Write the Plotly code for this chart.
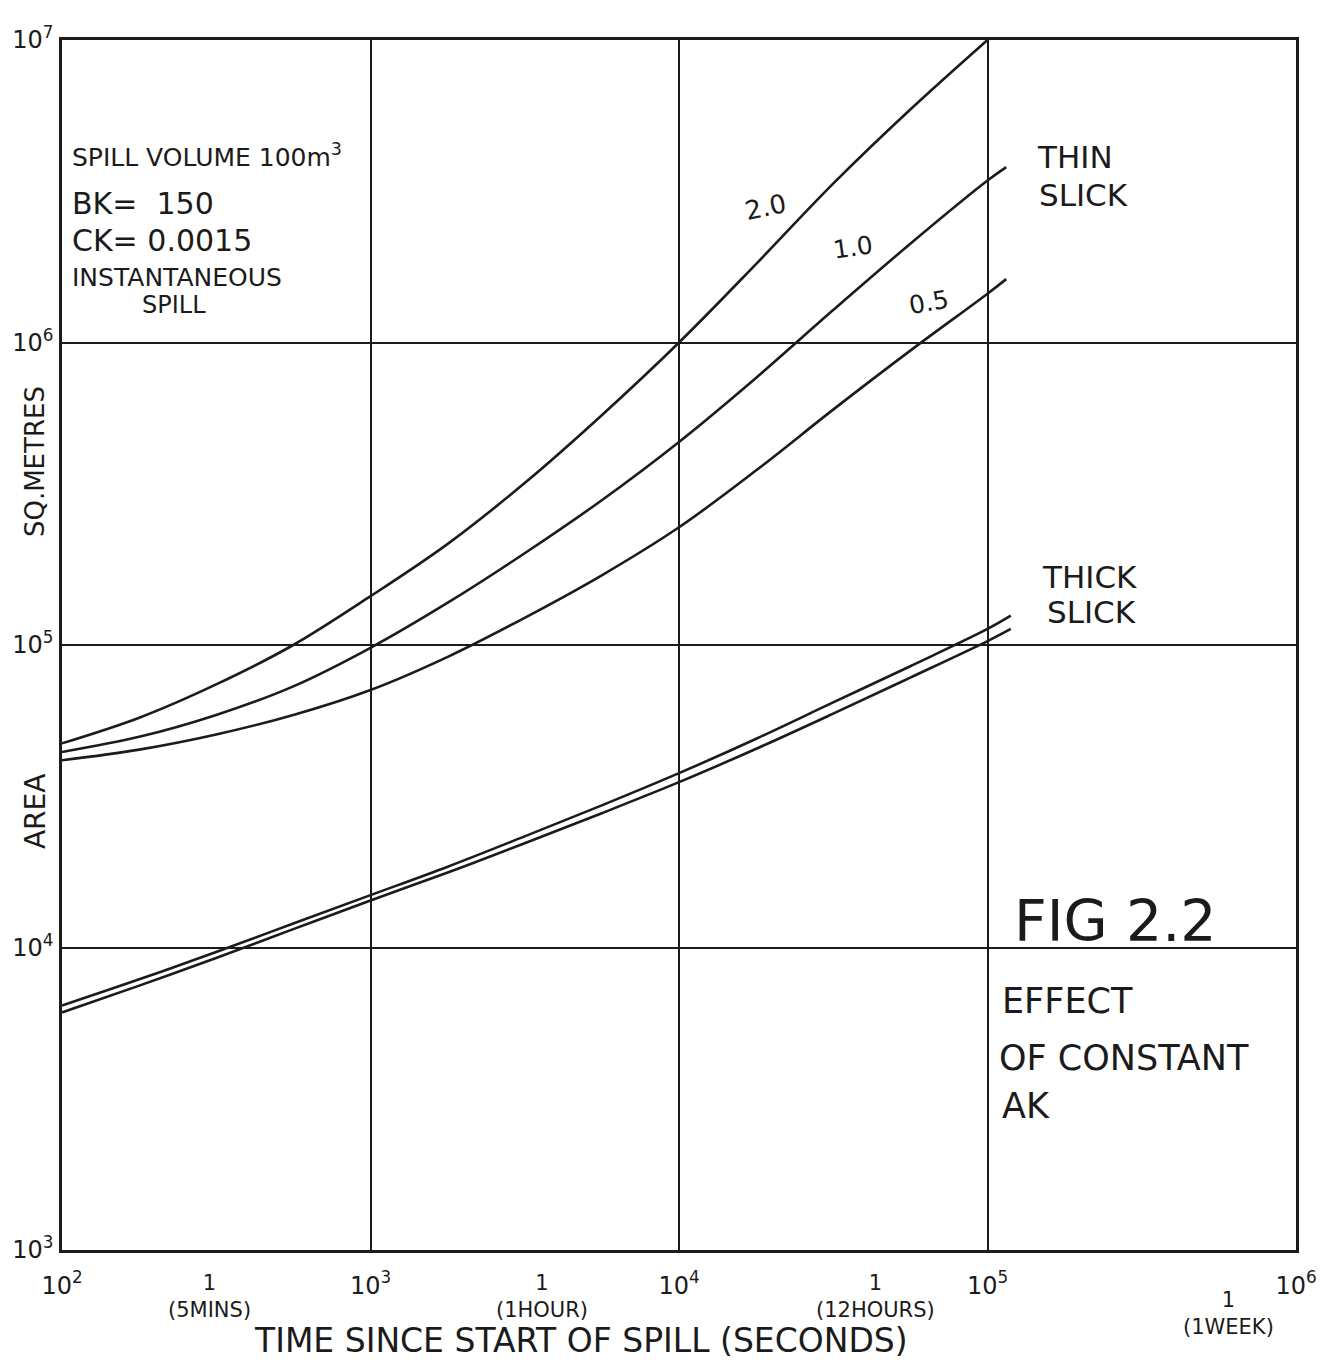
import math
import plotly.graph_objects as go

# Spreading of an instantaneous 100 m3 spill: slick area against time
time_s = [100, 178, 316, 562, 1000, 1780, 3160, 5620, 10000, 17800, 31600, 56200, 100000]
thin_end_s = 115000
thick_end_s = 119000

area_ak_2_0 = [47300, 57500, 74100, 100000, 145000, 216000, 343000, 575000,
               1000000, 1820000, 3350000, 5890000, 10000000]
area_ak_1_0 = [44300, 49700, 58700, 73000, 97900, 138000, 201000, 301000,
               469000, 765000, 1280000, 2120000, 3430000, 3800000]
area_ak_0_5 = [41600, 45100, 50600, 58700, 71000, 91400, 123000, 170000,
               245000, 378000, 600000, 940000, 1450000, 1620000]
area_thick_a = [6430, 7850, 9660, 12000, 14900, 18500, 23300, 29500,
                37700, 49000, 64600, 85100, 113000, 125000]
area_thick_b = [6100, 7480, 9230, 11500, 14300, 17700, 22100, 27800,
                35200, 45400, 59300, 78000, 103000, 113000]

decade_ticks = [1e2, 1e3, 1e4, 1e5, 1e6]
decade_text = ["10<sup>2</sup>", "10<sup>3</sup>", "10<sup>4</sup>", "10<sup>5</sup>", "10<sup>6</sup>"]
time_marks = [300, 3600, 43200, 604800]
time_text = ["1<br>(5MINS)", "1<br>(1HOUR)", "1<br>(12HOURS)", "1<br>(1WEEK)"]
area_ticks = [1e3, 1e4, 1e5, 1e6, 1e7]
area_text = ["10<sup>3</sup>", "10<sup>4</sup>", "10<sup>5</sup>", "10<sup>6</sup>", "10<sup>7</sup>"]

INK = "#1b1b1b"
FONT = "DejaVu Sans"
W, H = 1338, 1367
ML, MR, MT, MB = 60, 42, 40, 117

fig = go.Figure()

curves = [
    ("AK 2.0", time_s, area_ak_2_0),
    ("AK 1.0", time_s + [thin_end_s], area_ak_1_0),
    ("AK 0.5", time_s + [thin_end_s], area_ak_0_5),
    ("thick slick", time_s + [thick_end_s], area_thick_a),
    ("thick slick ", time_s + [thick_end_s], area_thick_b),
]
for name, t, a in curves:
    fig.add_trace(go.Scatter(
        x=t, y=a, name=name, mode="lines",
        line=dict(color=INK, width=2.6, shape="spline", smoothing=1.0),
        showlegend=False, hoverinfo="x+y",
    ))

axis_common = dict(
    type="log", showline=True, linecolor=INK, linewidth=2.5, mirror=True,
    showgrid=True, gridcolor=INK, gridwidth=2, ticks="",
    tickfont=dict(family=FONT, size=24, color=INK),
)

fig.update_layout(
    width=W, height=H,
    margin=dict(l=ML, r=MR, t=MT, b=MB),
    paper_bgcolor="white", plot_bgcolor="white",
    xaxis=dict(range=[2, 6], tickvals=decade_ticks, ticktext=decade_text,
               ticklabelstandoff=12, **axis_common),
    yaxis=dict(range=[3, 7], tickvals=area_ticks, ticktext=area_text,
               ticklabelstandoff=1, **axis_common),
)


def pos(px, py):
    """Pixel position on the page to paper coordinates."""
    return (px - ML) / (W - ML - MR), (H - MB - py) / (H - MT - MB)


def label(text, px, py, size=22, anchor="left", angle=0):
    x, y = pos(px, py)
    fig.add_annotation(x=x, y=y, xref="paper", yref="paper", text=text,
                       showarrow=False, xanchor=anchor, yanchor="middle",
                       textangle=angle,
                       font=dict(family=FONT, size=size, color=INK))


# secondary time marks under the x axis, placed on the log scale
for i, (t, txt) in enumerate(zip(time_marks, time_text)):
    _, y = pos(0, 1313 if i == 3 else 1296)
    fig.add_annotation(x=math.log10(t), y=y, xref="x", yref="paper", text=txt,
                       showarrow=False, xanchor="center", yanchor="middle",
                       font=dict(family=FONT, size=21, color=INK))

# spill parameters
label("SPILL VOLUME 100m<sup>3</sup>", 68, 155, 25)
label("BK=  150", 68, 203, 30)
label("CK= 0.0015", 68, 240, 30)
label("INSTANTANEOUS", 68, 277, 25)
label("SPILL", 138, 305, 24)

# curve labels
label("2.0", 765, 207, 26, "center", -12)
label("1.0", 852, 247, 25, "center", -8)
label("0.5", 928, 302, 25, "center", -10)
label("THIN", 1035, 157, 31)
label("SLICK", 1037, 195, 31)
label("THICK", 1040, 577, 31)
label("SLICK", 1045, 612, 31)

# figure caption
label("FIG 2.2", 1012, 921, 57)
label("EFFECT", 1000, 1001, 35)
label("OF CONSTANT", 997, 1058, 35)
label("AK", 1000, 1106, 35)

# axis titles
label("SQ.METRES", 33, 462, 26, "center", -90)
label("AREA", 33, 812, 28, "center", -90)
label("TIME SINCE START OF SPILL (SECONDS)", 580, 1340, 33, "center")

fig.write_html("out.html")
